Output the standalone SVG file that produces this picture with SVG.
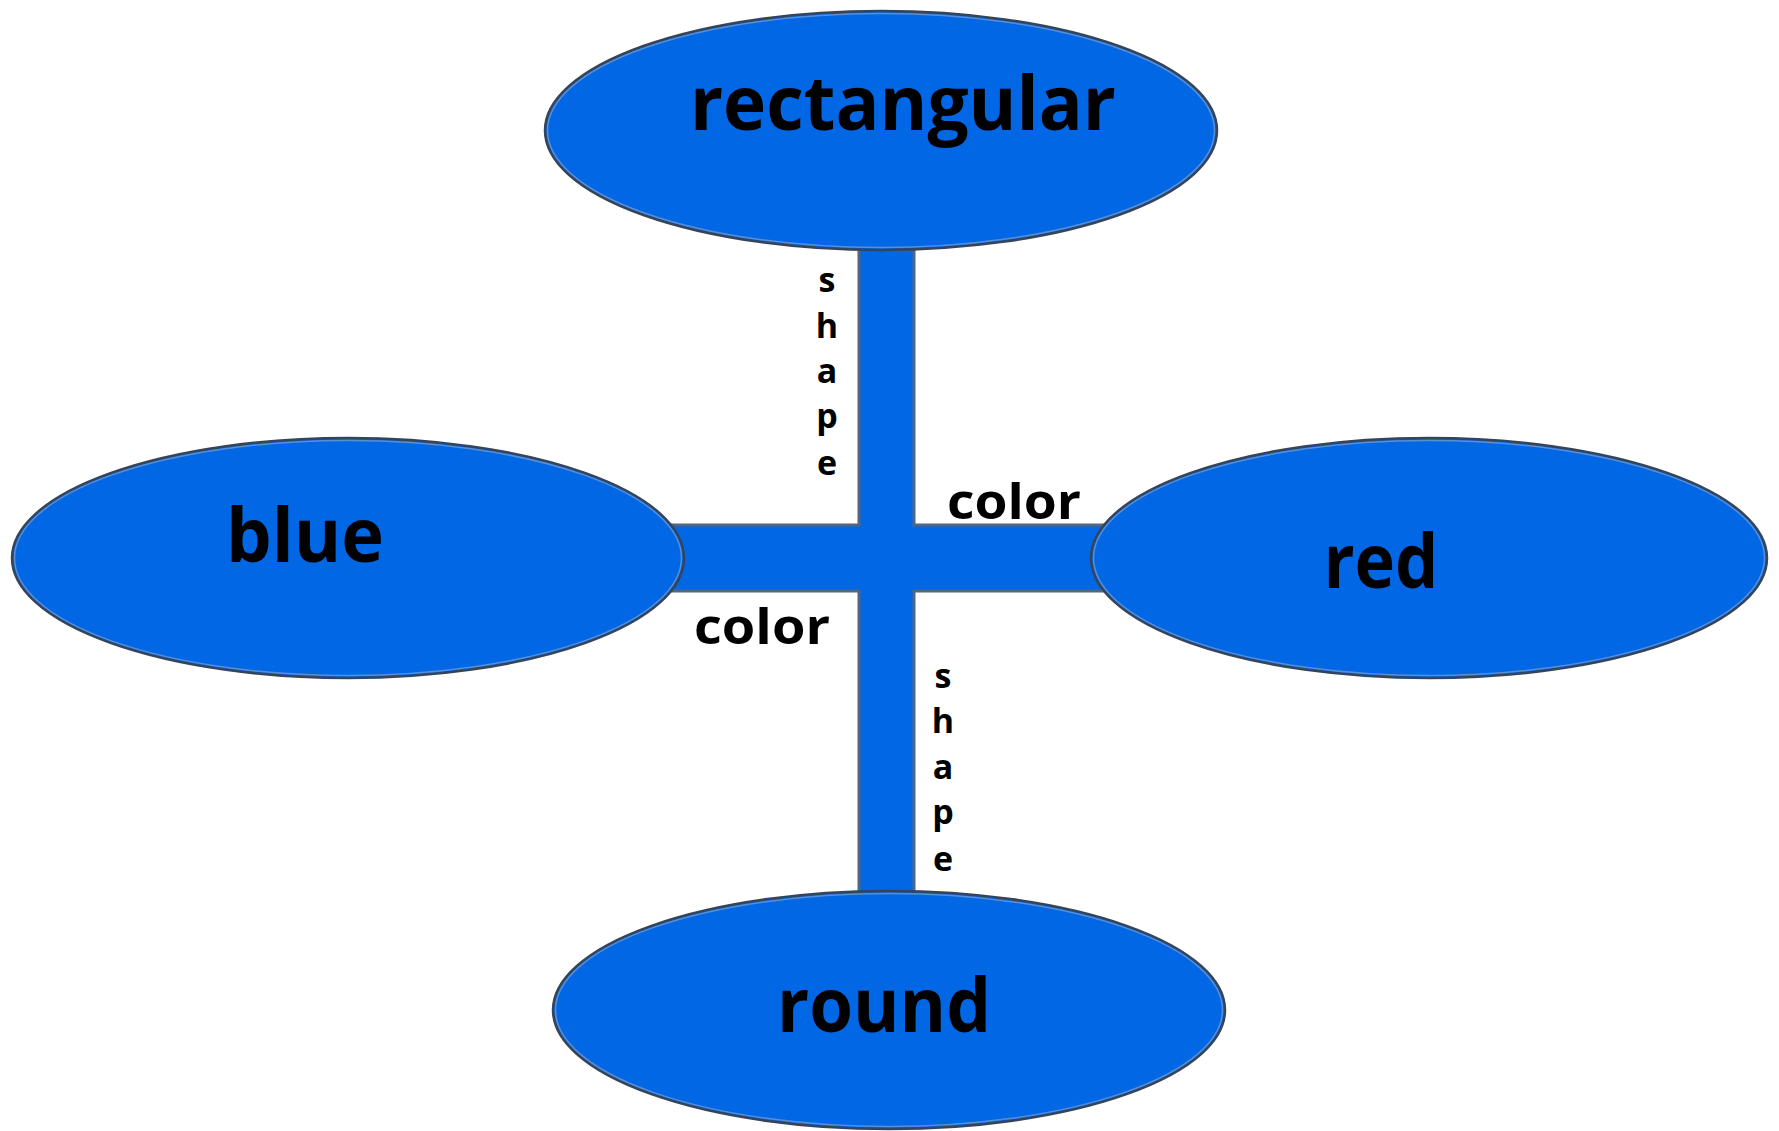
<svg xmlns="http://www.w3.org/2000/svg" width="1779" height="1131" viewBox="0 0 1779 1131">
  <style>
    .node-outer { fill: #0267E4; stroke: #34445a; stroke-width: 2.5; }
    .node-inner { fill: none; stroke: #5a8ed4; stroke-width: 1.5; }
    .bar { fill: #0267E4; stroke: #4f6684; stroke-width: 3; stroke-linejoin: miter; }
    .big { font-family: "Open Sans", "DejaVu Sans", sans-serif; font-weight: bold; font-size: 75px; fill: #000; text-anchor: middle; }
    .lbl { font-family: "Open Sans", "DejaVu Sans", sans-serif; font-weight: bold; font-size: 48px; fill: #000; text-anchor: middle; }
    .vlbl { font-family: "Open Sans", "DejaVu Sans", sans-serif; font-weight: bold; font-size: 34px; fill: #000; text-anchor: middle; }
  </style>
  <rect width="1779" height="1131" fill="#ffffff"/>

  <g id="connectors">
    <path class="bar" d="M859,240 H914 V525 H1140 V591 H914 V900 H859 V591 H640 V525 H859 Z"/>
    <text class="lbl" x="1014" y="519" textLength="134" lengthAdjust="spacingAndGlyphs">color</text>
    <text class="lbl" x="762" y="644" textLength="136" lengthAdjust="spacingAndGlyphs">color</text>
    <g class="vlbl">
      <text x="827" y="292">s</text>
      <text x="827" y="338">h</text>
      <text x="827" y="383">a</text>
      <text x="827" y="428">p</text>
      <text x="827" y="475">e</text>
    </g>
    <g class="vlbl">
      <text x="943" y="688">s</text>
      <text x="943" y="733">h</text>
      <text x="943" y="779">a</text>
      <text x="943" y="824">p</text>
      <text x="943" y="871">e</text>
    </g>
  </g>

  <g id="node-rectangular">
    <ellipse class="node-outer" cx="881" cy="130.5" rx="336" ry="119.5"/>
    <ellipse class="node-inner" cx="881" cy="130.5" rx="333.5" ry="117"/>
    <text class="big" x="903" y="130" textLength="426" lengthAdjust="spacingAndGlyphs">rectangular</text>
  </g>

  <g id="node-blue">
    <ellipse class="node-outer" cx="348" cy="558" rx="336" ry="120"/>
    <ellipse class="node-inner" cx="348" cy="558" rx="333.5" ry="117.5"/>
    <text class="big" x="305" y="562" textLength="158" lengthAdjust="spacingAndGlyphs">blue</text>
  </g>

  <g id="node-red">
    <ellipse class="node-outer" cx="1429" cy="558" rx="338" ry="120"/>
    <ellipse class="node-inner" cx="1429" cy="558" rx="335.5" ry="117.5"/>
    <text class="big" x="1381" y="588" textLength="115" lengthAdjust="spacingAndGlyphs">red</text>
  </g>

  <g id="node-round">
    <ellipse class="node-outer" cx="889" cy="1010" rx="336" ry="119"/>
    <ellipse class="node-inner" cx="889" cy="1010" rx="333.5" ry="116.5"/>
    <text class="big" x="884" y="1032" textLength="214" lengthAdjust="spacingAndGlyphs">round</text>
  </g>
</svg>
